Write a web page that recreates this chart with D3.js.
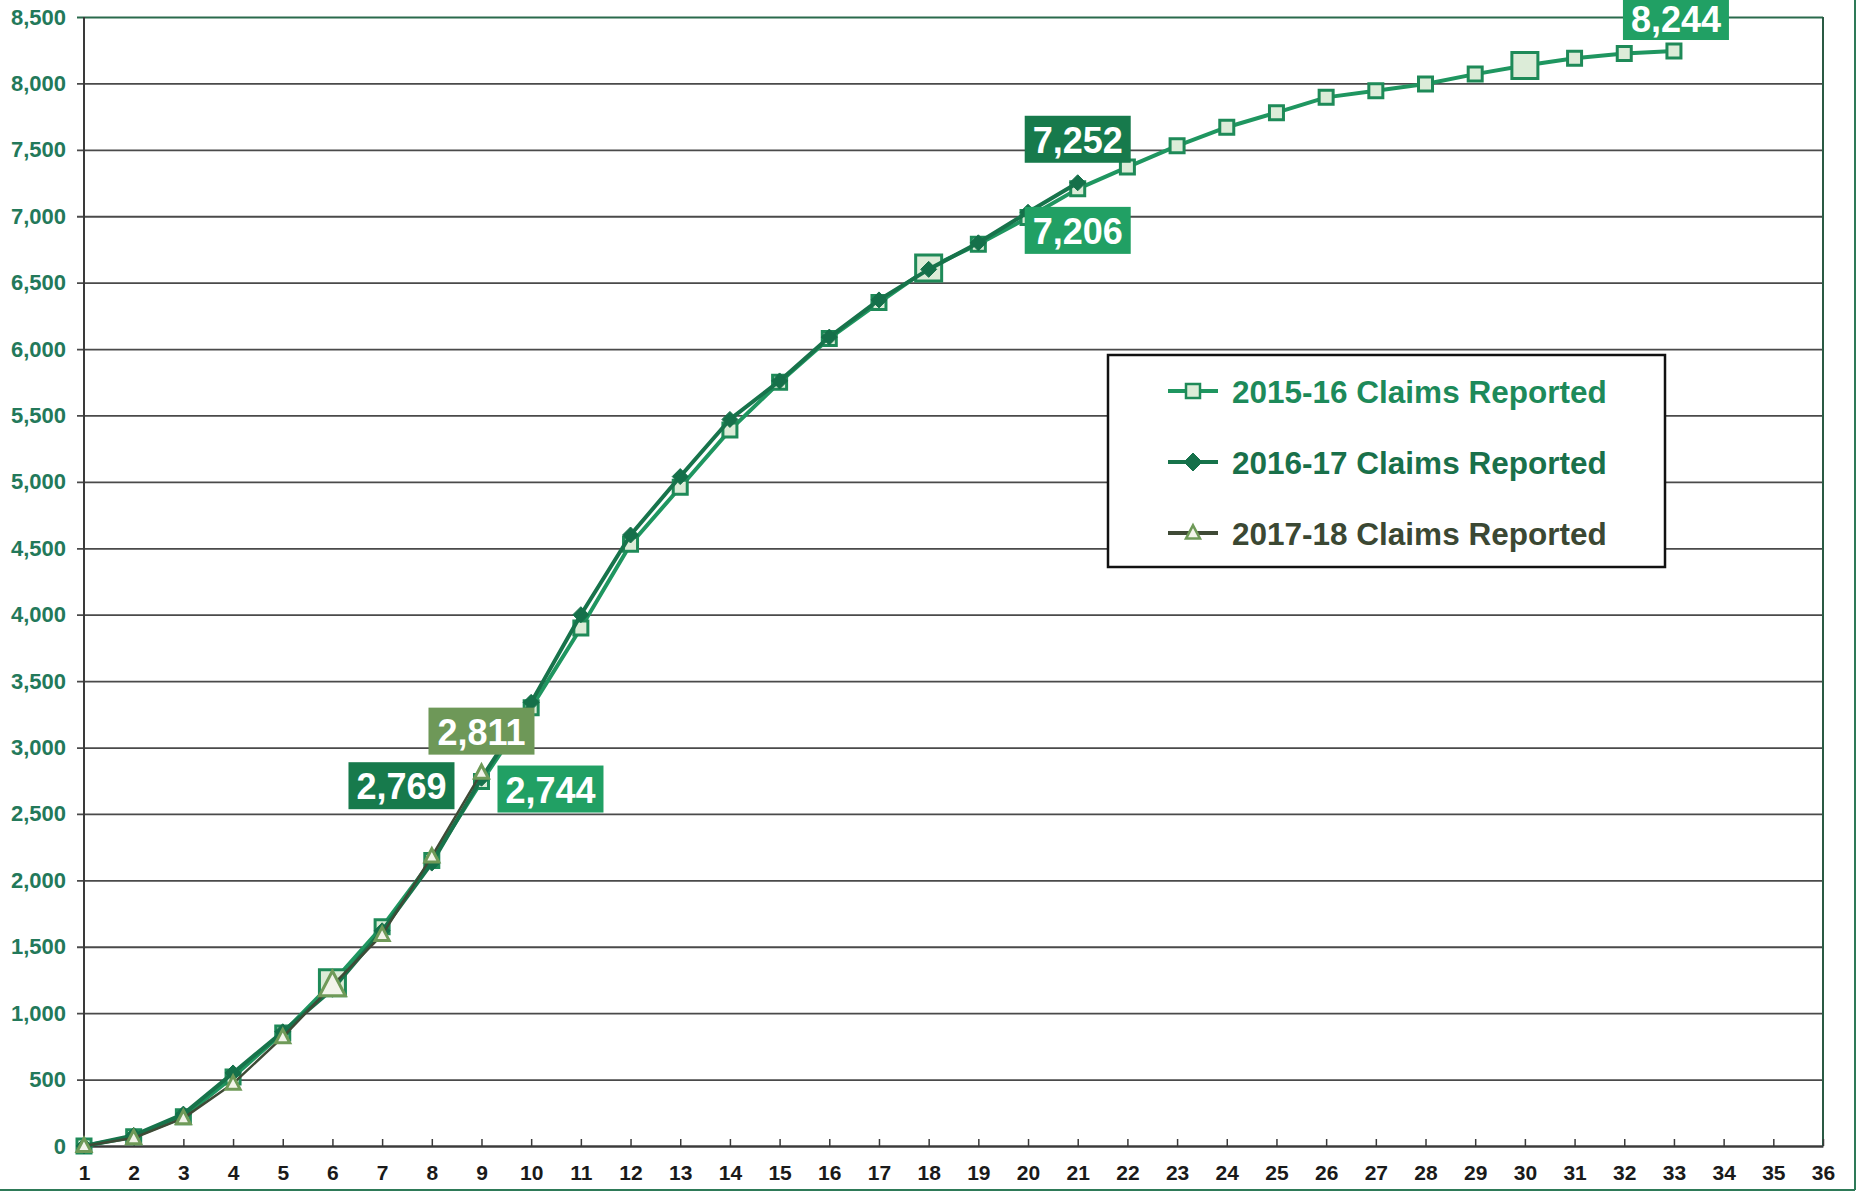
<!DOCTYPE html>
<html>
<head>
<meta charset="utf-8">
<script src="https://cdn.jsdelivr.net/npm/d3@7"></script>
<style>
  body { margin: 0; background: #fff; }
  svg { display: block; }
  .ylab text { font-family: "Liberation Sans", Arial, sans-serif; font-weight: bold; font-size: 22px; fill: #23795a; }
  .xlab text { font-family: "Liberation Sans", Arial, sans-serif; font-weight: bold; font-size: 21px; fill: #1a1a1a; }
</style>
</head>
<body>
<div id="chart"></div>
<script>
// months since start of the year, 1..36
const MONTHS = d3.range(1, 37);
const Y_TICKS = d3.range(0, 8501, 500);

// cumulative claims reported
const CLAIMS_1516 = [0, 70, 220, 520, 850, 1230, 1650, 2150, 2744, 3300, 3900, 4530, 4960, 5390, 5750, 6080, 6350, 6610, 6790, 6990, 7206, 7370, 7530, 7670, 7780, 7895, 7945, 7995, 8070, 8135, 8190, 8225, 8244];
const CLAIMS_1617 = [0, 80, 240, 550, 860, 1180, 1620, 2130, 2769, 3340, 4000, 4600, 5040, 5470, 5760, 6090, 6370, 6600, 6800, 7030, 7252];
const CLAIMS_1718 = [0, 60, 210, 470, 820, 1210, 1590, 2180, 2811];

const SERIES_NAMES = ["2015-16 Claims Reported", "2016-17 Claims Reported", "2017-18 Claims Reported"];

const WIDTH = 1860;
const HEIGHT = 1193;
const PLOT = { left: 84, right: 1823, top: 17, bottom: 1146 };

const series = [
  { name: SERIES_NAMES[0], values: CLAIMS_1516, line: "#1f9660", lineWidth: 4, marker: "square", stroke: "#1e8a58", fill: "#dcecd8", text: "#1d8a5a", big: [6, 18, 30] },
  { name: SERIES_NAMES[1], values: CLAIMS_1617, line: "#17734b", lineWidth: 4, marker: "diamond", stroke: "#15704a", fill: "#15704a", text: "#19704a", big: [] },
  { name: SERIES_NAMES[2], values: CLAIMS_1718, line: "#3f4a36", lineWidth: 2.5, marker: "triangle", stroke: "#6f9a58", fill: "#f2f4ea", text: "#3b4833", big: [6] },
];

// data labels: which series / month, box offset from the point, box colour
const LABELS = [
  { s: 2, m: 9, dx: 0, dy: -41, fill: "#6e9858" },
  { s: 1, m: 9, dx: -80, dy: 8, fill: "#177a4c" },
  { s: 0, m: 9, dx: 69, dy: 8, fill: "#21a064" },
  { s: 1, m: 21, dx: 0, dy: -43, fill: "#177a4c" },
  { s: 0, m: 21, dx: 0, dy: 42, fill: "#21a064" },
  { s: 0, m: 33, dx: 2, dy: -32, fill: "#21a064" },
];

const svg = d3.select("#chart").append("svg")
  .attr("width", WIDTH)
  .attr("height", HEIGHT);

const x = d3.scalePoint().domain(MONTHS).range([PLOT.left, PLOT.right]);
const y = d3.scaleLinear().domain([0, 8500]).range([PLOT.bottom, PLOT.top]);

// y axis with gridlines
const yAxis = svg.append("g")
  .attr("class", "ylab")
  .attr("transform", `translate(${PLOT.left},0)`)
  .call(d3.axisLeft(y).tickValues(Y_TICKS).tickFormat(d3.format(",")).tickSize(-(PLOT.right - PLOT.left)).tickPadding(18));
yAxis.select(".domain").remove();
yAxis.selectAll(".tick line")
  .attr("x1", -7)
  .attr("stroke", (d) => d === 8500 ? "#2a6a4c" : "#4a4a4a")
  .attr("stroke-width", 1.8);

// left axis line
svg.append("line")
  .attr("x1", PLOT.left).attr("x2", PLOT.left)
  .attr("y1", PLOT.top).attr("y2", PLOT.bottom)
  .attr("stroke", "#3a3a3a").attr("stroke-width", 2);
// right border
svg.append("line")
  .attr("x1", PLOT.right).attr("x2", PLOT.right)
  .attr("y1", PLOT.top).attr("y2", PLOT.bottom)
  .attr("stroke", "#2a5a44").attr("stroke-width", 2);

// x axis
const xAxis = svg.append("g")
  .attr("class", "xlab")
  .attr("transform", `translate(0,${PLOT.bottom})`)
  .call(d3.axisBottom(x).tickSize(-7).tickSizeOuter(0).tickPadding(19));
xAxis.select(".domain").attr("stroke", "#3a3a3a").attr("stroke-width", 2);
xAxis.selectAll(".tick line").attr("stroke", "#3a3a3a").attr("stroke-width", 1.5);

// page frame, right and bottom edges
svg.append("line").attr("x1", 1855).attr("x2", 1855).attr("y1", 0).attr("y2", 1190)
  .attr("stroke", "#2e7a58").attr("stroke-width", 2);
svg.append("line").attr("x1", 0).attr("x2", 1855).attr("y1", 1190).attr("y2", 1190)
  .attr("stroke", "#2e7a58").attr("stroke-width", 2);

function markerPath(type, size) {
  const h = size / 2;
  if (type === "square") return `M${-h},${-h}H${h}V${h}H${-h}Z`;
  if (type === "diamond") return `M0,${-h}L${h},0L0,${h}L${-h},0Z`;
  return `M0,${-h * 1.1}L${h},${h * 0.8}L${-h},${h * 0.8}Z`;
}

const line = d3.line().x((d, i) => x(i + 1)).y((d) => y(d));

series.forEach((s) => {
  const g = svg.append("g");
  g.append("path")
    .attr("d", line(s.values))
    .attr("fill", "none")
    .attr("stroke", s.line)
    .attr("stroke-width", s.lineWidth)
    .attr("stroke-linejoin", "round");
  g.selectAll("path.pt")
    .data(s.values)
    .join("path")
    .attr("class", "pt")
    .attr("transform", (d, i) => `translate(${x(i + 1)},${y(d)})`)
    .attr("d", (d, i) => {
      const big = s.big.includes(i + 1);
      if (s.marker === "square") return markerPath("square", big ? 26 : 14);
      if (s.marker === "diamond") return markerPath("diamond", 16);
      return markerPath("triangle", big ? 26 : 14);
    })
    .attr("fill", s.fill)
    .attr("stroke", s.stroke)
    .attr("stroke-width", s.marker === "diamond" ? 1 : 3);
});

// value labels
const lab = svg.append("g");
LABELS.forEach((l) => {
  const v = series[l.s].values[l.m - 1];
  const cx = x(l.m) + l.dx;
  const cy = y(v) + l.dy;
  const top = Math.max(0, cy - 24);
  const bottom = cy === Math.max(cy, 0) && top === 0 ? cy + 21 : cy + 23;
  lab.append("rect")
    .attr("x", cx - 53).attr("y", top)
    .attr("width", 106).attr("height", bottom - top)
    .attr("fill", l.fill);
  lab.append("text")
    .attr("x", cx).attr("y", cy + 13)
    .attr("text-anchor", "middle")
    .attr("font-family", "Liberation Sans, Arial, sans-serif")
    .attr("font-weight", "bold")
    .attr("font-size", 36)
    .attr("fill", "#fff")
    .text(d3.format(",")(v));
});

// legend
const legend = svg.append("g").attr("transform", "translate(1108,355)");
legend.append("rect")
  .attr("width", 557).attr("height", 212)
  .attr("fill", "#fff").attr("stroke", "#111").attr("stroke-width", 2.5);
series.forEach((s, i) => {
  const ly = 36 + i * 71;
  legend.append("line")
    .attr("x1", 60).attr("x2", 110).attr("y1", ly).attr("y2", ly)
    .attr("stroke", s.line).attr("stroke-width", 4);
  legend.append("path")
    .attr("transform", `translate(85,${ly})`)
    .attr("d", markerPath(s.marker, s.marker === "diamond" ? 18 : 14))
    .attr("fill", s.fill).attr("stroke", s.stroke).attr("stroke-width", s.marker === "diamond" ? 1 : 2.5);
  legend.append("text")
    .attr("x", 124).attr("y", ly + 12)
    .attr("font-family", "Liberation Sans, Arial, sans-serif")
    .attr("font-weight", "bold")
    .attr("font-size", 31.5)
    .attr("fill", s.text)
    .text(s.name);
});
</script>
</body>
</html>
